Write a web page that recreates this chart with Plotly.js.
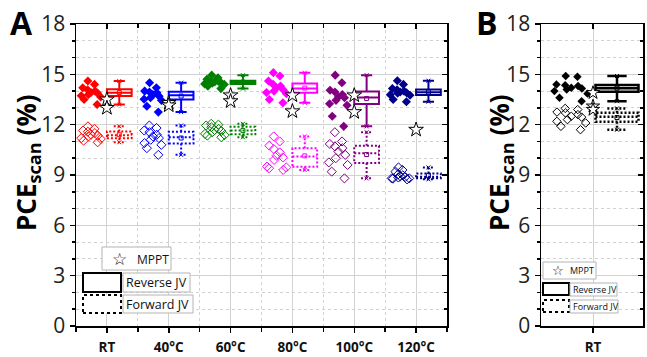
<!DOCTYPE html>
<html><head><meta charset="utf-8">
<script src="https://cdn.plot.ly/plotly-3.0.1.min.js"></script>
<style>html,body{margin:0;padding:0;background:#fff}#chart{width:647px;height:357px}</style>
</head><body><div id="chart"></div>
<script>
// ---------------- data (PCE_scan, %) ----------------
const categoriesA = ['RT', '40°C', '60°C', '80°C', '100°C', '120°C'];
const colorsA = ['#ff0000', '#0000ff', '#008000', '#ff00ff', '#800080', '#00008b'];

const reverseRT   = [13.2, 13.5, 13.65, 13.72, 13.8, 13.88, 13.92, 14.0, 14.08, 14.2, 14.4, 14.6];
const reverse40   = [12.75, 13.1, 13.45, 13.52, 13.6, 13.7, 13.8, 13.9, 13.95, 14.0, 14.2, 14.5];
const reverse60   = [14.15, 14.3, 14.4, 14.43, 14.47, 14.5, 14.55, 14.58, 14.6, 14.7, 14.8, 14.95];
const reverse80   = [13.3, 13.5, 13.85, 13.92, 14.0, 14.1, 14.2, 14.3, 14.4, 14.6, 14.9, 15.1];
const reverse100  = [11.9, 12.5, 13.15, 13.25, 13.45, 13.6, 13.65, 13.8, 13.95, 14.05, 14.5, 14.95];
const reverse120  = [13.37, 13.5, 13.75, 13.78, 13.88, 13.9, 13.95, 14.0, 14.08, 14.15, 14.4, 14.62];

const forwardRT   = [10.95, 11.05, 11.15, 11.2, 11.3, 11.35, 11.4, 11.5, 11.58, 11.65, 11.75, 11.9];
const forward40   = [10.2, 10.6, 10.8, 10.9, 11.1, 11.2, 11.3, 11.4, 11.55, 11.65, 11.8, 11.95];
const forward60   = [11.25, 11.35, 11.38, 11.45, 11.55, 11.62, 11.68, 11.75, 11.85, 11.95, 12.0, 12.05];
const forward80   = [9.3, 9.4, 9.45, 9.5, 9.9, 10.05, 10.15, 10.35, 10.55, 10.75, 11.0, 11.3];
const forward100  = [8.8, 9.2, 9.6, 9.75, 10.0, 10.2, 10.4, 10.6, 10.7, 10.85, 11.0, 11.55];
const forward120  = [8.74, 8.78, 8.8, 8.8, 8.85, 8.88, 8.92, 8.98, 9.05, 9.2, 9.3, 9.45];

const mpptRT  = [13.5, 13.0];
const mppt40  = [13.3, 13.15];
const mppt60  = [13.75, 13.4];
const mppt80  = [13.75, 12.8];
const mppt100 = [13.75, 12.75];
const mppt120 = [11.7];

const categoriesB = ['RT'];
const colorsB = ['#000000'];
const reverseB = [13.4, 13.6, 13.85, 14.0, 14.1, 14.15, 14.2, 14.3, 14.35, 14.4, 14.85, 14.9];
const forwardB = [11.7, 11.9, 12.1, 12.2, 12.3, 12.45, 12.5, 12.6, 12.7, 12.75, 12.9, 12.97];
const mpptB    = [13.9, 13.1, 12.9];

const yTicks = [0, 3, 6, 9, 12, 15, 18];

const reverseA = [reverseRT, reverse40, reverse60, reverse80, reverse100, reverse120];
const forwardA = [forwardRT, forward40, forward60, forward80, forward100, forward120];
const mpptA = [mpptRT, mppt40, mppt60, mppt80, mppt100, mppt120];

// ---------------- helpers ----------------
function quant(s, p) { const pos = (s.length - 1) * p, lo = Math.floor(pos), hi = Math.ceil(pos); return s[lo] + (s[hi] - s[lo]) * (pos - lo); }
function stats(v) {
  const s = [...v].sort((a, b) => a - b);
  return { min: s[0], max: s[s.length - 1], q1: quant(s, 0.25), med: quant(s, 0.5), q3: quant(s, 0.75), mean: s.reduce((a, b) => a + b, 0) / s.length };
}
const W = 647, H = 357;
const px = x => x / W, py = y => 1 - y / H;

const traces = [];
function addGroup(vals, pos, color, kind, ax, g) {
  const st = stats(vals);
  const bx = pos + g.boxOff;
  traces.push({ type: 'box', xaxis: ax.x, yaxis: ax.y, x: [bx], q1: [st.q1], median: [st.med], q3: [st.q3],
    lowerfence: [st.min], upperfence: [st.max], width: g.boxW, whiskerwidth: 0.45, boxpoints: false, boxmean: false,
    line: { color: color, width: g.lw }, fillcolor: '#ffffff', meta: kind, hoverinfo: 'skip' });
  traces.push({ type: 'scatter', mode: 'markers', xaxis: ax.x, yaxis: ax.y, x: [bx], y: [st.mean], hoverinfo: 'skip',
    marker: { symbol: 'square-open', size: 4, color: color, line: { width: 1, color: color } } });
  traces.push({ type: 'scatter', mode: 'markers', xaxis: ax.x, yaxis: ax.y, x: [bx, bx], y: [st.min, st.max], hoverinfo: 'skip',
    marker: { symbol: 'x-thin-open', size: 4, color: color, line: { width: 1, color: color } } });
  traces.push({ type: 'box', xaxis: ax.x, yaxis: ax.y, x0: pos + g.ptOff, y: vals, width: g.ptW, jitter: g.jitter, pointpos: 0,
    boxpoints: 'all', line: { width: 0, color: 'rgba(0,0,0,0)' }, fillcolor: 'rgba(0,0,0,0)', hoverinfo: 'skip',
    marker: { symbol: kind === 'rev' ? 'diamond' : 'diamond-open', size: g.ms, color: color,
      line: { width: kind === 'rev' ? 0 : 1, color: color } } });
}
const geomA = { boxOff: 0.2, boxW: 0.4, ptOff: -0.25, ptW: 0.4, jitter: 1.0, ms: 7, lw: 2 };
const geomB = { boxOff: 0.24, boxW: 0.43, ptOff: -0.21, ptW: 0.43, jitter: 1.0, ms: 6.5, lw: 2.5 };

categoriesA.forEach((c, i) => {
  addGroup(forwardA[i], i + 1, colorsA[i], 'fwd', { x: 'x', y: 'y' }, geomA);
  addGroup(reverseA[i], i + 1, colorsA[i], 'rev', { x: 'x', y: 'y' }, geomA);
});
categoriesB.forEach((c, i) => {
  addGroup(forwardB, i + 1, colorsB[i], 'fwd', { x: 'x2', y: 'y2' }, geomB);
  addGroup(reverseB, i + 1, colorsB[i], 'rev', { x: 'x2', y: 'y2' }, geomB);
});
traces.push({ type: 'scatter', mode: 'markers', xaxis: 'x', yaxis: 'y', hoverinfo: 'skip',
  x: mpptA.flatMap((a, i) => a.map(() => i + 1)), y: mpptA.flat(),
  marker: { symbol: 'star', size: 11, color: '#ffffff', line: { width: 1, color: '#000' } } });
traces.push({ type: 'scatter', mode: 'markers', xaxis: 'x2', yaxis: 'y2', hoverinfo: 'skip',
  x: mpptB.map(() => 1), y: mpptB,
  marker: { symbol: 'star', size: 10, color: '#ffffff', line: { width: 1, color: '#000' } } });
// carriers for the inward-tick mirror axes
[['x3', 'y'], ['x', 'y3'], ['x4', 'y2'], ['x2', 'y4']].forEach(([xa, ya]) =>
  traces.push({ type: 'scatter', x: [], y: [], xaxis: xa, yaxis: ya, hoverinfo: 'skip' }));

// ---------------- layout ----------------
const gridC = '#d2d2d2';
const XA = [px(76), px(447)], XB = [px(541), px(643)], YD = [py(326), py(24)];
const majA = categoriesA.map((c, i) => i + 1);
const minA = [0, 1, 2, 3, 4, 5, 6].map(v => v + 0.5);
const lineStyle = { showline: true, linecolor: '#000', linewidth: 1.5, mirror: true, zeroline: false };
const tickStyle = { ticks: 'outside', ticklen: 5, tickwidth: 1.5, tickcolor: '#000' };
const xFont = { family: 'Open Sans, Noto Sans, sans-serif', size: 13.5, color: '#111', weight: 'bold' };
const yFont = { family: 'Open Sans, Noto Sans, sans-serif', size: 21, color: '#222' };

function yAxis(anchor) {
  return Object.assign({}, lineStyle, tickStyle, { domain: YD, anchor: anchor, range: [0, 18], tickmode: 'array', tickvals: yTicks,
    tickfont: yFont, showgrid: true, gridcolor: gridC, gridwidth: 1,
    minor: { dtick: 1, tick0: 0, ticks: 'outside', ticklen: 3, tickwidth: 1.5, tickcolor: '#000', showgrid: true, gridcolor: gridC, griddash: 'dot', gridwidth: 1 } });
}
function yMirror(over, anchor) {
  return { overlaying: over, anchor: anchor, side: 'right', range: [0, 18], tickmode: 'array', tickvals: yTicks, ticks: 'inside',
    ticklen: 5, tickwidth: 1.5, tickcolor: '#000', showticklabels: false, showgrid: false, showline: false, zeroline: false,
    minor: { dtick: 1, tick0: 0, ticks: 'inside', ticklen: 3, tickwidth: 1.5, tickcolor: '#000', showgrid: false } };
}

const layout = {
  width: W, height: H, margin: { l: 0, r: 0, t: 0, b: 0 }, paper_bgcolor: '#fff', plot_bgcolor: '#fff',
  showlegend: false, boxmode: 'overlay', hovermode: false,
  xaxis: Object.assign({}, lineStyle, tickStyle, { domain: XA, anchor: 'y', range: [0.5, 6.5], tickmode: 'array', tickvals: majA,
    ticktext: categoriesA, tickfont: xFont, ticklabelstandoff: 3, showgrid: true, gridcolor: gridC, gridwidth: 1,
    minor: { tickmode: 'array', tickvals: minA, ticks: 'outside', ticklen: 4, tickwidth: 1.5, tickcolor: '#000', showgrid: true, gridcolor: gridC, griddash: 'dot', gridwidth: 1 } }),
  yaxis: yAxis('x'),
  xaxis3: { overlaying: 'x', anchor: 'y', side: 'top', range: [0.5, 6.5], tickmode: 'array', tickvals: majA, ticks: 'inside', ticklen: 5,
    tickwidth: 1.5, tickcolor: '#000', showticklabels: false, showgrid: false, showline: false, zeroline: false,
    minor: { tickmode: 'array', tickvals: minA, ticks: 'inside', ticklen: 4, tickwidth: 1.5, tickcolor: '#000', showgrid: false } },
  yaxis3: yMirror('y', 'x'),
  xaxis2: Object.assign({}, lineStyle, tickStyle, { domain: XB, anchor: 'y2', range: [0.48, 1.5], tickmode: 'array', tickvals: [1],
    ticktext: categoriesB, tickfont: xFont, ticklabelstandoff: 3, showgrid: true, gridcolor: gridC, gridwidth: 1 }),
  yaxis2: yAxis('x2'),
  xaxis4: { overlaying: 'x2', anchor: 'y2', side: 'top', range: [0.48, 1.5], tickmode: 'array', tickvals: [1], ticks: 'inside', ticklen: 5,
    tickwidth: 1.5, tickcolor: '#000', showticklabels: false, showgrid: false, showline: false, zeroline: false },
  yaxis4: yMirror('y2', 'x2'),
  shapes: [], annotations: []
};

const titleFont = { family: 'Open Sans, Noto Sans, sans-serif', size: 26, color: '#000', weight: 'bold' };
const letterFont = { family: 'Open Sans, Noto Sans, sans-serif', size: 32, color: '#000', weight: 'bold' };
layout.annotations.push(
  { xref: 'paper', yref: 'paper', x: px(8), y: py(-1), xanchor: 'left', yanchor: 'top', text: 'A', showarrow: false, font: letterFont },
  { xref: 'paper', yref: 'paper', x: px(474), y: py(-1), xanchor: 'left', yanchor: 'top', text: 'B', showarrow: false, font: letterFont },
  { xref: 'paper', yref: 'paper', x: px(27), y: py(163), xanchor: 'center', yanchor: 'middle', textangle: -90, text: 'PCE<sub>scan</sub> (%)', showarrow: false, font: titleFont },
  { xref: 'paper', yref: 'paper', x: px(500), y: py(163), xanchor: 'center', yanchor: 'middle', textangle: -90, text: 'PCE<sub>scan</sub> (%)', showarrow: false, font: titleFont }
);

// legend boxes (drawn as shapes + text)
function rect(x0, y0, x1, y1, color, width, dash) {
  layout.shapes.push({ type: 'rect', xref: 'paper', yref: 'paper', x0: px(x0), x1: px(x1), y0: py(y1), y1: py(y0),
    line: { color: color, width: width, dash: dash || 'solid' }, fillcolor: '#ffffff', layer: 'above' });
}
function label(x, y, text, size) {
  layout.annotations.push({ xref: 'paper', yref: 'paper', x: px(x), y: py(y), xanchor: 'left', yanchor: 'middle', text: text,
    showarrow: false, font: { family: 'Open Sans, Noto Sans, sans-serif', size: size, color: '#111' } });
}
function star(x, y, size) {
  layout.annotations.push({ xref: 'paper', yref: 'paper', x: px(x), y: py(y), xanchor: 'center', yanchor: 'middle', text: '☆',
    showarrow: false, font: { family: 'DejaVu Sans, sans-serif', size: size, color: '#111' } });
}
const boxC = '#b4b4b4';
// panel A legend
rect(102, 247, 171, 270, boxC, 1); star(119, 259, 17); label(135, 259, 'MPPT', 12);
rect(83, 273, 121, 292, '#000', 2); rect(123, 273, 190, 292, boxC, 1); label(124, 282.5, 'Reverse JV', 12.5);
rect(83, 295, 121, 313, '#000', 2, 'dot'); rect(123, 295, 193, 313, boxC, 1); label(124, 304, 'Forward JV', 12.5);
// panel B legend
rect(543, 262, 596, 279, boxC, 1); star(558, 270.5, 13); label(568, 270.5, 'MPPT', 9);
rect(543, 283, 569, 295, '#000', 2); rect(570, 283, 617, 296, boxC, 1); label(570.5, 289.5, 'Reverse JV', 9);
rect(543, 300, 569, 312, '#000', 2, 'dot'); rect(570, 300, 618, 313, boxC, 1); label(570.5, 306.5, 'Forward JV', 9);

Plotly.newPlot('chart', traces, layout, { staticPlot: true, displayModeBar: false }).then(() => {
  document.querySelectorAll('g.trace.boxes').forEach(g => {
    const cd = g.__data__; const tr = cd && cd[0] && cd[0].trace;
    if (tr && tr.meta === 'fwd') g.querySelectorAll('path.box').forEach(p => { p.style.strokeDasharray = '2px,2px'; });
  });
});
</script>
</body></html>
